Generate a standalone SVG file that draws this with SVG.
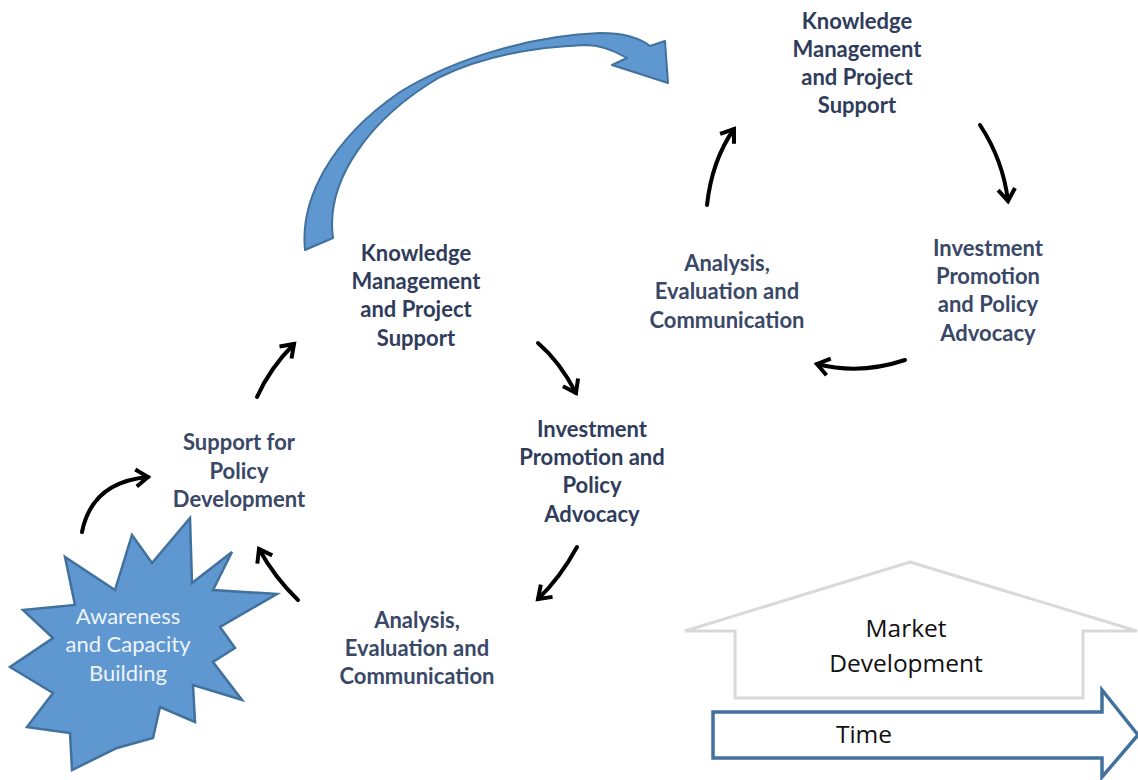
<svg xmlns="http://www.w3.org/2000/svg" width="1138" height="780" viewBox="0 0 1138 780">
<style>
.lbl{font-family:Lato,"Open Sans","Liberation Sans",sans-serif;font-size:22px;font-weight:bold;fill:#3a4868;text-anchor:middle}
.dk{fill:#2f3c5c}
.wt{font-family:Lato,"Open Sans","Liberation Sans",sans-serif;font-size:22px;fill:#eef3fa;text-anchor:middle}
.blk{font-family:"Open Sans","Liberation Sans",sans-serif;font-size:24.5px;fill:#111;text-anchor:middle}
.arr{fill:none;stroke:#000;stroke-width:4;stroke-linecap:round;marker-end:url(#chev)}
</style>
<defs>
<marker id="chev" markerUnits="userSpaceOnUse" markerWidth="30" markerHeight="30" viewBox="-15 -15 30 30" refX="0" refY="0" orient="auto" overflow="visible">
<path d="M-12,-8.5 L0,0 L-12,8.5" fill="none" stroke="#000" stroke-width="4" stroke-linejoin="miter"/>
</marker>
</defs>
<rect width="1138" height="780" fill="#fff"/>

<g id="big-arrow">
<path d="M305,250 C300,200 330,140 400,92 C460,55 540,35 600,33 C625,33 640,38 650,46 L665,41 L668,83 L612,65 L627,58 C612,49 600,45 585,45 C530,47 480,58 440,77 C370,118 325,180 333,238 Z" fill="#5f97d0" stroke="#41719c" stroke-width="2" stroke-linejoin="round"/>
</g>

<g id="market-development">
<path d="M910,562 L1137,631 L1083,631 L1083,698 L735,698 L735,631 L685,631 Z" fill="#fff" stroke="#d9d9d9" stroke-width="3"/>
<text class="blk" x="906" y="637">Market</text>
<text class="blk" x="906" y="672">Development</text>
</g>

<g id="time">
<path d="M713,712 L1102,712 L1102,690 L1138,735 L1102,777 L1102,758 L713,758 Z" fill="#fff" stroke="#41719c" stroke-width="3.5"/>
<text class="blk" x="864" y="743">Time</text>
</g>

<g id="awareness">
<path d="M190,518 L192,583 L232,552 L213,590 L277,594 L220,627 L235,648 L213,662 L242,700 L193,685 L195,722 L160,707 L153,738 L117,748 L72,770 L70,733 L27,727 L53,693 L10,667 L53,638 L23,610 L75,605 L65,557 L115,590 L132,535 L152,563 Z" fill="#5f97d0" stroke="#41719c" stroke-width="2.5" stroke-linejoin="miter"/>
<text class="wt" x="128" y="624">Awareness</text>
<text class="wt" x="128" y="652">and Capacity</text>
<text class="wt" x="128" y="681">Building</text>
</g>

<g id="km-top">
<text class="lbl dk" x="857" y="29">Knowledge</text>
<text class="lbl dk" x="857" y="57">Management</text>
<text class="lbl dk" x="857" y="85">and Project</text>
<text class="lbl dk" x="857" y="113">Support</text>
</g>

<g id="ipa-right">
<text class="lbl" x="988" y="256">Investment</text>
<text class="lbl" x="988" y="284">Promotion</text>
<text class="lbl" x="988" y="312">and Policy</text>
<text class="lbl" x="988" y="341">Advocacy</text>
</g>

<g id="aec-right">
<text class="lbl" x="727" y="271">Analysis,</text>
<text class="lbl" x="727" y="299">Evaluation and</text>
<text class="lbl" x="727" y="328">Communication</text>
</g>

<g id="km-mid">
<text class="lbl dk" x="416" y="261">Knowledge</text>
<text class="lbl dk" x="416" y="289">Management</text>
<text class="lbl dk" x="416" y="317">and Project</text>
<text class="lbl dk" x="416" y="346">Support</text>
</g>

<g id="ipa-mid">
<text class="lbl dk" x="592" y="437">Investment</text>
<text class="lbl dk" x="592" y="465">Promotion and</text>
<text class="lbl dk" x="592" y="493">Policy</text>
<text class="lbl dk" x="592" y="522">Advocacy</text>
</g>

<g id="aec-bottom">
<text class="lbl" x="417" y="628">Analysis,</text>
<text class="lbl" x="417" y="656">Evaluation and</text>
<text class="lbl" x="417" y="684">Communication</text>
</g>

<g id="support-policy">
<text class="lbl" x="239" y="450">Support for</text>
<text class="lbl" x="239" y="479">Policy</text>
<text class="lbl" x="239" y="507">Development</text>
</g>

<g id="connectors">
<path class="arr" d="M980,125 Q1003,160 1008,201"/>
<path class="arr" d="M905,360 Q860,375 817,364"/>
<path class="arr" d="M707,205 Q712,160 734,129"/>
<path class="arr" d="M538,343 Q560,362 576,393"/>
<path class="arr" d="M577,547 Q560,578 538,599"/>
<path class="arr" d="M298,600 Q275,578 259,549"/>
<path class="arr" d="M82,532 Q92,482 148,477"/>
<path class="arr" d="M257,397 Q270,368 294,344"/>
</g>
</svg>
